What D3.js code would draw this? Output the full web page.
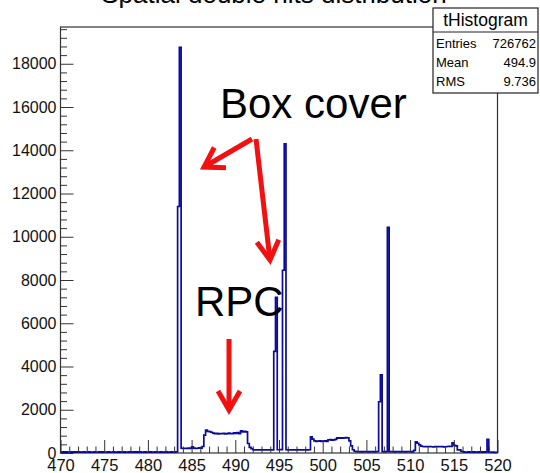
<!DOCTYPE html>
<html><head><meta charset="utf-8">
<script src="https://cdn.jsdelivr.net/npm/d3@7"></script>
<style>html,body{margin:0;padding:0;background:#fff;} svg{display:block;font-family:"Liberation Sans",Arial,Helvetica,sans-serif;}</style>
</head><body><svg id="c" width="540" height="473"></svg>
<script>
const title = "Spatial double hits distribution";
const xDomain = [470, 520];
const yDomain = [0, 19700];
const binWidth = 0.2;
// bin contents, 5 bins per unit from 470 to 520
const counts = [
  40,50,45,50,40,  45,50,40,50,45,  50,40,45,50,40,  45,50,40,45,50,  40,45,50,40,50,
  45,40,50,45,40,  50,45,40,50,45,  40,50,45,40,50,  45,50,40,50,45,  50,40,45,50,40,
  45,50,40,45,50,  40,45,50,40,45,  50,45,40,50,45,  40,50,11400,18760,220,  210,220,215,225,210,
  290,230,215,220,240,  230,300,830,1060,1000,  990,960,920,900,910,  880,900,890,910,880,  900,920,890,900,930,
  910,940,900,1030,980,  1000,980,440,260,200,  150,140,145,140,150,  140,145,150,140,145,  150,140,4700,7200,150,
  150,160,8450,14300,150,  140,145,150,140,145,  140,150,145,140,150,  145,140,150,750,640,  560,540,550,560,540,
  550,560,540,610,620,  600,610,630,700,690,  700,690,700,710,700,  560,330,150,80,60,  60,70,50,60,70,
  60,50,70,60,50,  60,70,2370,3610,60,  50,60,10440,60,70,  60,50,70,60,50,  60,70,50,60,70,
  60,50,120,520,450,  380,320,300,290,300,  290,300,290,280,300,  290,300,290,300,280,  290,300,310,300,470,
  350,330,140,140,80,  50,40,45,50,40,  45,50,40,45,50,  40,50,45,50,630,  40,35,40,30,35
];
const xMajorTicks = [470,475,480,485,490,495,500,505,510,515,520];
const xMinorTicks = d3.range(470, 521, 1).filter(v => v % 5 !== 0);
const yMajorTicks = [0,2000,4000,6000,8000,10000,12000,14000,16000,18000];
const yMinorTicks = d3.range(0, 19700, 400).filter(v => v % 2000 !== 0);
const statsTitle = "tHistogram";
const statsLabels = ["Entries","Mean","RMS"];
const statsValues = ["726762","494.9","9.736"];
const labelBox = "Box cover";
const labelRPC = "RPC";

const svg = d3.select("#c");
const L = 60.5, R = 497.5, T = 27, B = 453;
const x = d3.scaleLinear(xDomain, [L, R]);
const y = d3.scaleLinear(yDomain, [B, T]);

// title
svg.append("text").attr("x", 274).attr("y", 3).attr("text-anchor", "middle")
  .attr("font-size", 26).attr("fill", "#000").text(title);

// frame
svg.append("rect").attr("x", L).attr("y", T).attr("width", R - L).attr("height", B - T)
  .attr("fill", "none").attr("stroke", "#333").attr("stroke-width", 1.2);

// histogram
const pts = counts.map((c, i) => [xDomain[0] + i * binWidth, c]);
pts.push([xDomain[1], counts[counts.length - 1]]);
const line = d3.line().x(d => x(d[0])).y(d => y(d[1])).curve(d3.curveStepAfter);
svg.append("path").attr("d", line(pts)).attr("fill", "none")
  .attr("stroke", "#0a0a9c").attr("stroke-width", 1.7);

// axes
function styleAxis(size) {
  return g => {
    g.select(".domain").remove();
    g.selectAll("line").attr("stroke", "#333").attr("stroke-width", 1);
    g.selectAll("text").attr("fill", "#111").attr("font-size", size)
      .attr("font-family", '"Liberation Sans",Arial,sans-serif');
  };
}
svg.append("g").attr("transform", `translate(0,${B})`)
  .call(d3.axisBottom(x).tickValues(xMajorTicks).tickSize(-13).tickPadding(6).tickFormat(d3.format("d")))
  .call(styleAxis(16.5));
svg.append("g").attr("transform", `translate(0,${B})`)
  .call(d3.axisBottom(x).tickValues(xMinorTicks).tickSize(-6.5).tickFormat(""))
  .call(styleAxis(16));
svg.append("g").attr("transform", `translate(${L},0)`)
  .call(d3.axisLeft(y).tickValues(yMajorTicks).tickSize(-13).tickPadding(4).tickFormat(d3.format("d")))
  .call(styleAxis(16));
svg.append("g").attr("transform", `translate(${L},0)`)
  .call(d3.axisLeft(y).tickValues(yMinorTicks).tickSize(-6.5).tickFormat(""))
  .call(styleAxis(16));

// stats box
const sb = {x: 433, y: 8, w: 105, h: 85, sep: 32};
svg.append("rect").attr("x", sb.x).attr("y", sb.y).attr("width", sb.w).attr("height", sb.h)
  .attr("fill", "#fff").attr("stroke", "#222").attr("stroke-width", 1.2);
svg.append("line").attr("x1", sb.x).attr("x2", sb.x + sb.w).attr("y1", sb.sep).attr("y2", sb.sep)
  .attr("stroke", "#222").attr("stroke-width", 1.2);
svg.append("text").attr("x", sb.x + sb.w / 2).attr("y", 26).attr("text-anchor", "middle")
  .attr("font-size", 17.5).attr("fill", "#000").text(statsTitle);
const rowY = [48, 67, 86];
statsLabels.forEach((s, i) => {
  svg.append("text").attr("x", sb.x + 3).attr("y", rowY[i]).attr("font-size", 13)
    .attr("fill", "#000").text(s);
  svg.append("text").attr("x", sb.x + sb.w - 2).attr("y", rowY[i]).attr("font-size", 13)
    .attr("text-anchor", "end").attr("fill", "#000").text(statsValues[i]);
});

// annotations
svg.append("text").attr("x", 220).attr("y", 118).attr("font-size", 42).attr("fill", "#000").text(labelBox);
svg.append("text").attr("x", 195).attr("y", 316).attr("font-size", 42).attr("fill", "#000").text(labelRPC);

function arrow(x1, y1, x2, y2, len, ang) {
  const a = Math.atan2(y1 - y2, x1 - x2);
  const g = svg.append("g").attr("stroke", "#f21010").attr("stroke-width", 5).attr("fill", "none");
  g.append("line").attr("x1", x1).attr("y1", y1).attr("x2", x2).attr("y2", y2);
  const p1 = [x2 + len * Math.cos(a + ang), y2 + len * Math.sin(a + ang)];
  const p2 = [x2 + len * Math.cos(a - ang), y2 + len * Math.sin(a - ang)];
  g.append("path").attr("d", `M${p1[0]},${p1[1]}L${x2},${y2}L${p2[0]},${p2[1]}`)
    .attr("stroke-linejoin", "miter").attr("stroke-linecap", "butt");
}
const deg = Math.PI / 180;
arrow(252, 139, 204, 167, 22, 32 * deg);
arrow(256, 139, 270, 260, 22, 30 * deg);
arrow(229, 339, 229, 410, 22, 30 * deg);
</script></body></html>
